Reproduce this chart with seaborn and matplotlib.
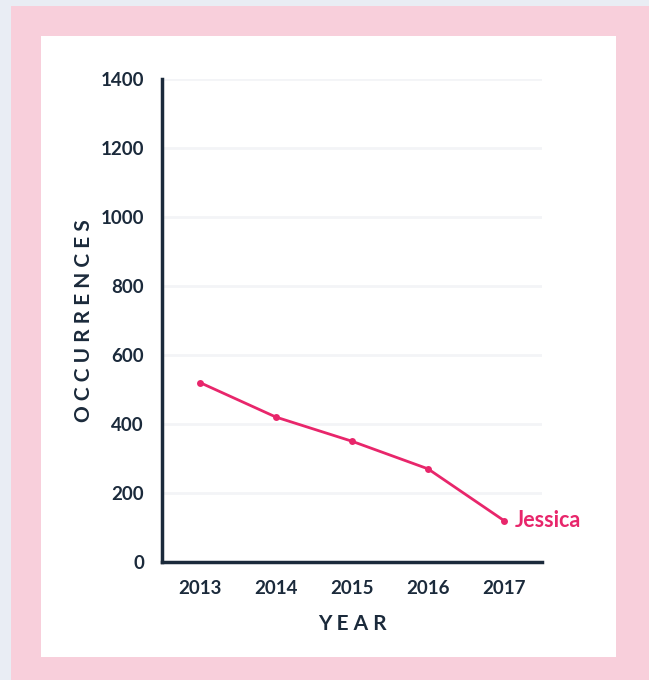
import matplotlib
matplotlib.use("Agg")
import matplotlib.pyplot as plt
from matplotlib.patches import Rectangle
import seaborn as sns
import pandas as pd

# 데이터
years = [2013, 2014, 2015, 2016, 2017]
occurrences = [520, 420, 350, 270, 120]
series_name = "Jessica"
y_ticks = [0, 200, 400, 600, 800, 1000, 1200, 1400]

dark = "#1b2a3b"
pink = "#e8266b"

sns.set_theme(style="white")
plt.rcParams['font.family'] = ['Lato', 'DejaVu Sans']

df = pd.DataFrame({"year": years, "occurrences": occurrences})

W, H = 649, 680
fig = plt.figure(figsize=(W / 100, H / 100), dpi=100)
fig.patch.set_facecolor("#e9edf4")

# 배경 (핑크 테두리 + 흰색 패널) - 축 아래에 그리기
fig.patches.append(Rectangle((11 / W, 0), 1 - 11 / W, 1 - 6 / H, transform=fig.transFigure,
                             facecolor="#f8cfdb", edgecolor="none", zorder=-2))
fig.patches.append(Rectangle((41 / W, 1 - 657 / H), (616 - 41) / W, (657 - 36) / H,
                             transform=fig.transFigure, facecolor="white", edgecolor="none", zorder=-1))

ax = fig.add_axes([162 / W, 1 - 562 / H, (542 - 162) / W, (562 - 79) / H])
ax.set_facecolor("none")

sns.lineplot(data=df, x="year", y="occurrences", ax=ax, color=pink, linewidth=2,
             marker="o", markersize=5, markeredgewidth=0, zorder=3)

ax.set_xlim(years[0] - 0.5, years[-1] + 0.5)
ax.set_ylim(0, 1400)
ax.set_xticks(years)
ax.set_yticks(y_ticks)
ax.set_xticklabels([str(y) for y in years])

for t in y_ticks[1:]:
    ax.axhline(t, color="#f3f4f7", linewidth=2, zorder=1)

for s in ["top", "right"]:
    ax.spines[s].set_visible(False)
for s in ["left", "bottom"]:
    ax.spines[s].set_color(dark)
    ax.spines[s].set_linewidth(2.5)

ax.tick_params(axis="both", colors=dark, length=7, width=2, labelsize=13.5, pad=6)
for lab in ax.get_xticklabels() + ax.get_yticklabels():
    lab.set_fontweight("bold")

ax.set_xlabel("Y E A R", fontsize=15, fontweight="bold", color=dark, labelpad=12)
ax.set_ylabel("O C C U R R E N C E S", fontsize=15, fontweight="bold", color=dark, labelpad=5)

ax.annotate(series_name, xy=(years[-1], occurrences[-1]), xytext=(8, 0),
            textcoords="offset points", color=pink, fontsize=15.5, fontweight="bold",
            va="center", ha="left")

fig.savefig("out.png", dpi=100, facecolor=fig.get_facecolor())
